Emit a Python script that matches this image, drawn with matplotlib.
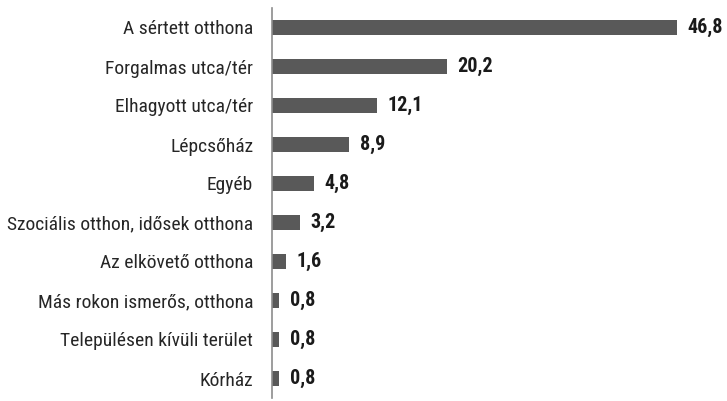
import matplotlib.pyplot as plt

# data (top to bottom)
places = ["A sértett otthona", "Forgalmas utca/tér", "Elhagyott utca/tér", "Lépcsőház",
          "Egyéb", "Szociális otthon, idősek otthona", "Az elkövető otthona",
          "Más rokon ismerős, otthona", "Településen kívüli terület", "Kórház"]
shares = [46.8, 20.2, 12.1, 8.9, 4.8, 3.2, 1.6, 0.8, 0.8, 0.8]
shareLabels = ["46,8", "20,2", "12,1", "8,9", "4,8", "3,2", "1,6", "0,8", "0,8", "0,8"]

plt.rcParams['font.family'] = ['Roboto Condensed', 'Pragati Narrow', 'Archivo Narrow', 'DejaVu Sans']

fig = plt.figure(figsize=(7.27, 4.01), dpi=100)
ax = fig.add_axes([272 / 727, 3 / 401, 455 / 727, 390 / 401])

pos = list(range(len(places)))
ax.barh(pos, shares, height=0.38, color="#595959")
for y, v, s in zip(pos, shares, shareLabels):
    ax.text(v + 1.25, y, s, va="center", ha="left", fontsize=14.5, fontweight="semibold", color="#1a1a1a")

ax.set_yticks(pos)
ax.set_yticklabels(places, fontsize=14, color="#262626")
ax.tick_params(axis="y", length=0, pad=13.5)
ax.set_ylim(len(places) - 0.5, -0.5)
ax.set_xlim(0, 52.6)
ax.set_xticks([])
for side in ["top", "right", "bottom"]:
    ax.spines[side].set_visible(False)
ax.spines["left"].set_color("#8c8c8c")
ax.spines["left"].set_linewidth(1.2)

fig.savefig("out.png", dpi=100)
